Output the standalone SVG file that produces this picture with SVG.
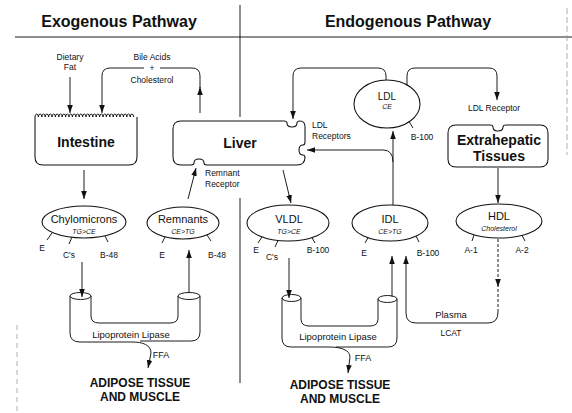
<svg xmlns="http://www.w3.org/2000/svg" width="572" height="413" viewBox="0 0 572 413">
<defs>
<style>
text{font-family:"Liberation Sans",Arial,sans-serif;fill:#111;text-anchor:middle}
.title{font-size:16px;font-weight:bold}
.big{font-size:14px;font-weight:bold}
.cap{font-size:12px;font-weight:bold}
.nm{font-size:11px}
.sub{font-size:7px;font-style:italic}
.sm{font-size:8.5px}
.lft{text-anchor:start}
.ln{fill:none;stroke:#111;stroke-width:0.95}
.sh{fill:#fff;stroke:#111;stroke-width:1.05}
.dash{fill:none;stroke:#111;stroke-width:0.95;stroke-dasharray:3 2}
.art{fill:none;stroke:#999;stroke-width:0.8}
</style>
<marker id="ah" viewBox="0 0 10 10" refX="10" refY="5" markerWidth="8" markerHeight="8" markerUnits="userSpaceOnUse" orient="auto"><path d="M0,1.5 L10,5 L0,8.5 z" fill="#111"/></marker>
</defs>
<rect width="572" height="413" fill="#fff"/>

<g id="frame">
<line x1="15" y1="37" x2="572" y2="37" class="ln"/>
<line x1="240" y1="5" x2="240" y2="117" class="ln"/>
<line x1="240" y1="198" x2="240" y2="383" class="ln"/>
<line x1="567" y1="8" x2="567" y2="155" class="art" stroke-dasharray="6 3"/>
<line x1="17" y1="325" x2="17" y2="413" class="art" stroke-dasharray="5 4"/>
<text x="119" y="27" class="title">Exogenous Pathway</text>
<text x="408" y="27" class="title">Endogenous Pathway</text>
</g>

<g id="connectors">
<path d="M70,77 V113" class="ln" marker-end="url(#ah)"/>
<path d="M200,113 V87" class="ln" marker-end="url(#ah)"/>
<path d="M200,88 V76 Q200,68 192,68 H160" class="ln"/>
<path d="M144,68 H110 Q102,68 102,76 V113" class="ln" marker-end="url(#ah)"/>
<path d="M84,170 V199" class="ln" marker-end="url(#ah)"/>
<path d="M188,199 L196,168" class="ln" marker-end="url(#ah)"/>
<path d="M82,262 V297" class="ln" marker-end="url(#ah)"/>
<path d="M189,293 V250" class="ln" marker-end="url(#ah)"/>
<path d="M132,342 C143,342 151,345 151,353 L148,368" class="ln" marker-end="url(#ah)"/>
<path d="M283,170 L291,203" class="ln" marker-end="url(#ah)"/>
<path d="M289,258 V298" class="ln" marker-end="url(#ah)"/>
<path d="M392,297 V256" class="ln" marker-end="url(#ah)"/>
<path d="M393,205 V131" class="ln" marker-end="url(#ah)"/>
<path d="M393,162 Q393,150 383,150 H307" class="ln" marker-end="url(#ah)"/>
<path d="M386,80 V76 Q386,68 378,68 H301 Q293,68 293,76 V119" class="ln" marker-end="url(#ah)"/>
<path d="M407,87 V76 Q407,68 415,68 H489 Q497,68 497,76 V100" class="ln" marker-end="url(#ah)"/>
<path d="M498,168 V203" class="ln" marker-end="url(#ah)"/>
<path d="M498,239 V287" class="dash" marker-end="url(#ah)"/>
<path d="M498,289 V312" class="dash"/>
<path d="M498,312 Q498,323 488,323 H416 Q406,323 406,313 V256" class="ln" marker-end="url(#ah)"/>
<path d="M329,347 C341,347 350,350 350,357 L348,373" class="ln" marker-end="url(#ah)"/>
</g>

<g id="dietary-fat">
<text x="70" y="60" class="sm">Dietary</text>
<text x="70" y="70" class="sm">Fat</text>
</g>
<g id="bile-acids">
<text x="152" y="60" class="sm">Bile Acids</text>
<text x="152" y="71" class="sm">+</text>
<text x="152" y="83" class="sm">Cholesterol</text>
</g>

<g id="intestine">
<path d="M35,117 V157 Q35,165 43,165 H129 Q137,165 137,157 V117" class="sh"/>
<path d="M35,117 q0,-3 1.7,-3 q1.7,0 1.7,3 q0,-3 1.7,-3 q1.7,0 1.7,3 q0,-3 1.7,-3 q1.7,0 1.7,3 q0,-3 1.7,-3 q1.7,0 1.7,3 q0,-3 1.7,-3 q1.7,0 1.7,3 q0,-3 1.7,-3 q1.7,0 1.7,3 q0,-3 1.7,-3 q1.7,0 1.7,3 q0,-3 1.7,-3 q1.7,0 1.7,3 q0,-3 1.7,-3 q1.7,0 1.7,3 q0,-3 1.7,-3 q1.7,0 1.7,3 q0,-3 1.7,-3 q1.7,0 1.7,3 q0,-3 1.7,-3 q1.7,0 1.7,3 q0,-3 1.7,-3 q1.7,0 1.7,3 q0,-3 1.7,-3 q1.7,0 1.7,3 q0,-3 1.7,-3 q1.7,0 1.7,3 q0,-3 1.7,-3 q1.7,0 1.7,3 q0,-3 1.7,-3 q1.7,0 1.7,3 q0,-3 1.7,-3 q1.7,0 1.7,3 q0,-3 1.7,-3 q1.7,0 1.7,3 q0,-3 1.7,-3 q1.7,0 1.7,3 q0,-3 1.7,-3 q1.7,0 1.7,3 q0,-3 1.7,-3 q1.7,0 1.7,3 q0,-3 1.7,-3 q1.7,0 1.7,3 q0,-3 1.7,-3 q1.7,0 1.7,3 q0,-3 1.7,-3 q1.7,0 1.7,3 q0,-3 1.7,-3 q1.7,0 1.7,3 q0,-3 1.7,-3 q1.7,0 1.7,3 q0,-3 1.7,-3 q1.7,0 1.7,3 q0,-3 1.7,-3 q1.7,0 1.7,3" class="ln"/>
<text x="86" y="147" class="big">Intestine</text>
</g>

<g id="liver">
<path d="M181,121 H284 c2,0 3,1 3,2 c0,3 2,4 5,4 c3,0 5,-1 5,-4 c0,-1 1,-2 3,-2 Q305,121 305,127 V142 c0,2 -1,3 -2,3 c-3,0 -4,2 -4,5 c0,3 1,5 4,5 c1,0 2,1 2,3 V157 Q305,165 297,165 H207 c-2,0 -3,-1 -3,-2 c0,-3 -2,-4 -5,-4 c-3,0 -5,1 -5,4 c0,1 -1,2 -3,2 H181 Q173,165 173,157 V129 Q173,121 181,121 Z" class="sh"/>
<text x="240" y="148" class="big">Liver</text>
<text x="312" y="128" class="sm lft">LDL</text>
<text x="312" y="139" class="sm lft">Receptors</text>
<text x="205" y="176" class="sm lft">Remnant</text>
<text x="205" y="187" class="sm lft">Receptor</text>
</g>

<g id="chylomicrons">
<ellipse cx="84" cy="222" rx="42" ry="16" class="sh"/>
<text x="84" y="223" class="nm">Chylomicrons</text>
<text x="84" y="234" class="sub">TG&gt;CE</text>
<path d="M52,233 L47,240 M72,237 L69,244 M105,236 L108,242" class="ln"/>
<text x="42" y="251" class="sm">E</text>
<text x="69" y="258" class="sm">C's</text>
<text x="109" y="258" class="sm">B-48</text>
</g>

<g id="remnants">
<ellipse cx="183" cy="223" rx="36" ry="16" class="sh"/>
<text x="183" y="223" class="nm">Remnants</text>
<text x="183" y="234" class="sub">CE&gt;TG</text>
<path d="M165,237 L162,243 M207,235 L211,241" class="ln"/>
<text x="162" y="258" class="sm">E</text>
<text x="217" y="258" class="sm">B-48</text>
</g>

<g id="capillary-exo">
<path d="M70,296 V333 Q70,342 80,342 H132" class="ln"/>
<path d="M140,341 H191 Q200,341 200,332 V296" class="ln"/>
<path d="M91,296 V316 Q91,323 99,323 H170 Q178,323 178,316 V296" class="ln"/>
<ellipse cx="80.5" cy="296" rx="10.5" ry="3.5" class="ln"/>
<ellipse cx="189" cy="296" rx="11" ry="3.5" class="ln"/>
<text x="131" y="338" style="font-size:9.5px">Lipoprotein Lipase</text>
<text x="161" y="358" style="font-size:9px">FFA</text>
</g>
<g id="adipose-exo">
<text x="140" y="387" class="cap">ADIPOSE TISSUE</text>
<text x="140" y="401" class="cap">AND MUSCLE</text>
</g>

<g id="ldl">
<ellipse cx="387" cy="104" rx="33" ry="24" class="sh"/>
<text x="387" y="100" style="font-size:10px">LDL</text>
<text x="387" y="109" class="sub">CE</text>
<path d="M409,121.5 L413,128" class="ln"/>
<text x="422" y="140" class="sm">B-100</text>
</g>

<g id="ldl-receptor">
<text x="494" y="111" class="sm">LDL Receptor</text>
</g>

<g id="extrahepatic">
<path d="M456,125 H490 c2,0 3,1 3,2 c0,3 2,4 5,4 c3,0 5,-1 5,-4 c0,-1 1,-2 3,-2 H540 Q548,125 548,133 V159 Q548,167 540,167 H456 Q448,167 448,159 V133 Q448,125 456,125 Z" class="sh"/>
<text x="499" y="145" class="big">Extrahepatic</text>
<text x="499" y="161" class="big">Tissues</text>
</g>

<g id="vldl">
<ellipse cx="288" cy="223" rx="41" ry="18" class="sh"/>
<text x="289" y="223" class="nm">VLDL</text>
<text x="289" y="234" class="sub">TG&gt;CE</text>
<path d="M262,237 L258,243 M278,240.5 L275,247 M312,237.6 L315,243" class="ln"/>
<text x="256" y="253" class="sm">E</text>
<text x="272" y="260" class="sm">C's</text>
<text x="318" y="253" class="sm">B-100</text>
</g>

<g id="idl">
<ellipse cx="390" cy="223" rx="38" ry="18" class="sh"/>
<text x="390" y="223" class="nm">IDL</text>
<text x="390" y="234" class="sub">CE&gt;TG</text>
<path d="M368,237.7 L365,243 M416,236 L419,242" class="ln"/>
<text x="364" y="256" class="sm">E</text>
<text x="428" y="256" class="sm">B-100</text>
</g>

<g id="hdl">
<ellipse cx="499" cy="221" rx="43" ry="17" class="sh"/>
<text x="499" y="220" class="nm">HDL</text>
<text x="499" y="231" class="sub">Cholesterol</text>
<path d="M474,235 L472,241 M522,235.4 L525,241" class="ln"/>
<text x="471" y="253" class="sm">A-1</text>
<text x="522" y="253" class="sm">A-2</text>
</g>

<g id="plasma">
<text x="451" y="318" style="font-size:9.5px">Plasma</text>
<text x="451" y="336" class="sm">LCAT</text>
</g>

<g id="capillary-endo">
<path d="M282,298 V338 Q282,347 291,347 H329" class="ln"/>
<path d="M336,347 H388 Q397,347 397,338 V299" class="ln"/>
<path d="M301,298 V319 Q301,326 309,326 H370 Q378,326 378,319 V299" class="ln"/>
<ellipse cx="291.5" cy="298" rx="9.5" ry="3.5" class="ln"/>
<ellipse cx="387.5" cy="299" rx="9.5" ry="3.5" class="ln"/>
<text x="338" y="340" style="font-size:9.5px">Lipoprotein Lipase</text>
<text x="363" y="361" style="font-size:9px">FFA</text>
</g>
<g id="adipose-endo">
<text x="340" y="389" class="cap">ADIPOSE TISSUE</text>
<text x="340" y="403" class="cap">AND MUSCLE</text>
</g>
</svg>
